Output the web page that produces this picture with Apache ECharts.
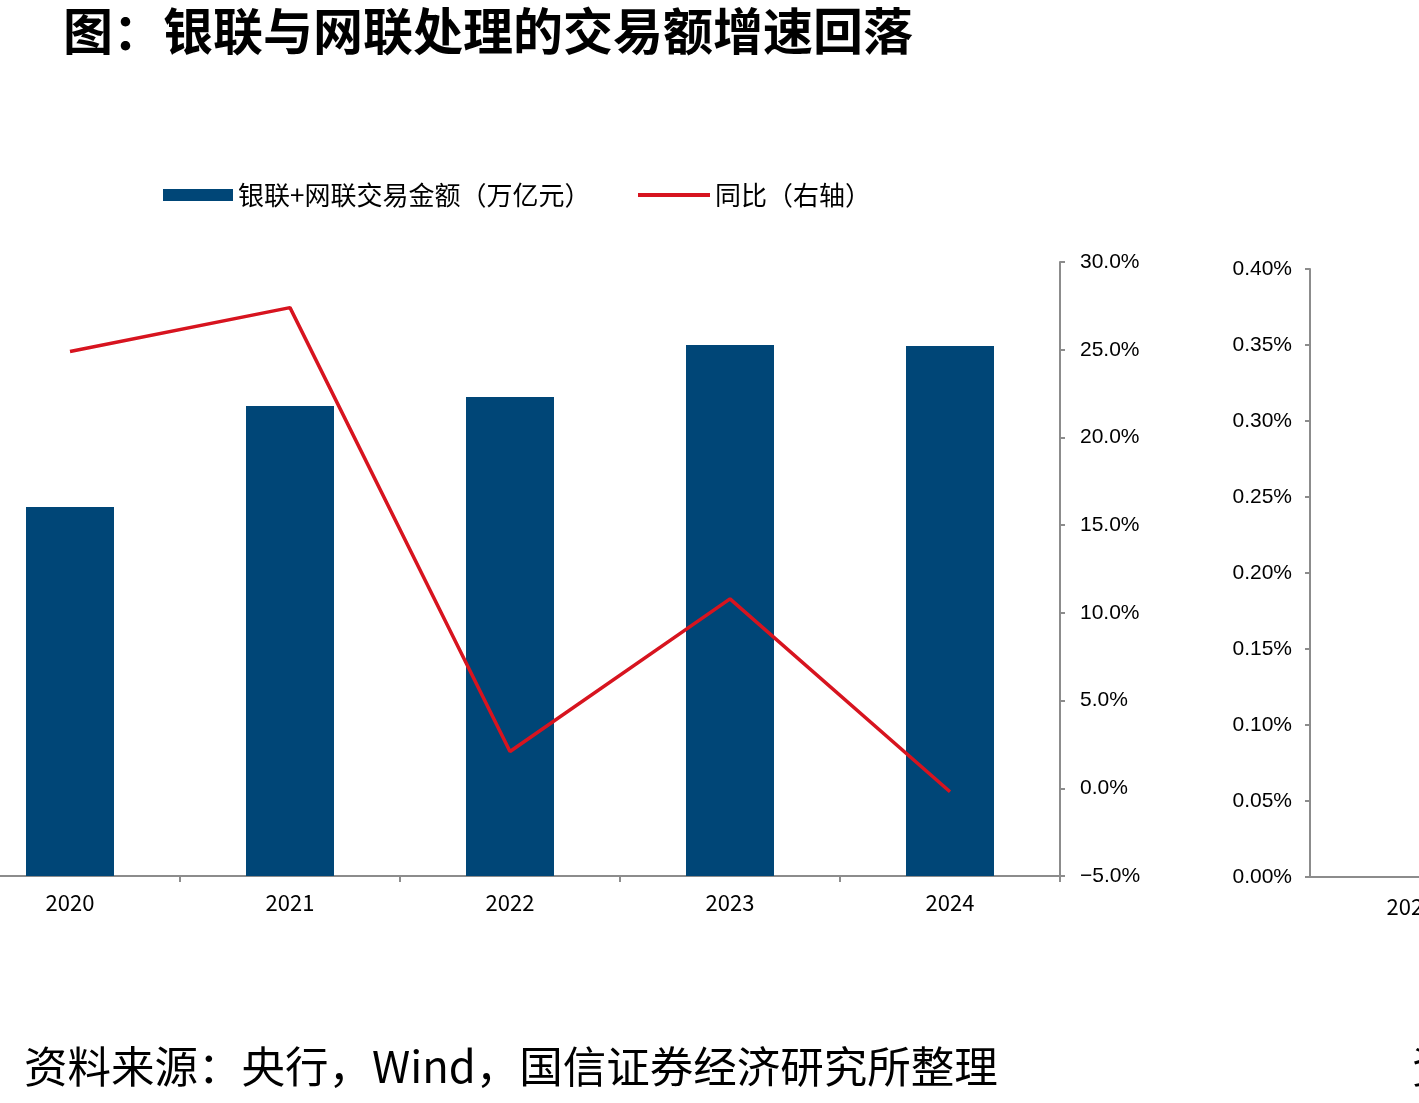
<!DOCTYPE html>
<html><head><meta charset="utf-8">
<script src="https://cdn.jsdelivr.net/npm/echarts@6/dist/echarts.min.js"></script>
<style>html,body{margin:0;padding:0;background:#fff;overflow:hidden;width:1419px;height:1103px;}
#c{position:absolute;left:-40px;top:0;width:2400px;height:1103px;}</style>
</head><body><div id="c"></div>
<script>
const titleText = '图：银联与网联处理的交易额增速回落';
const sourceText = '资料来源：央行，Wind，国信证券经济研究所整理';
const categories = ['2020', '2021', '2022', '2023', '2024'];
const barName = '银联+网联交易金额（万亿元）';
const lineName = '同比（右轴）';
const barValues = [210.4, 267.9, 273.1, 302.7, 302.1];
const yoyValues = [24.9, 27.4, 2.1, 10.8, -0.2];
const rightTicks = { min: -5, max: 30, interval: 5 };
const panel2Categories = ['2020', '2021', '2022', '2023', '2024'];
const panel2Ticks = { min: 0, max: 0.4, interval: 0.05 };

// chart container is shifted 40px left of the page
const OX = 40;
const FONT = '"Noto Sans CJK SC", "Noto Sans", sans-serif';
const NUMFONT = '"Liberation Sans", Arial, sans-serif';
const AXIS_GRAY = '#8c8c8c';
const chart = echarts.init(document.getElementById('c'));
chart.setOption({
  animation: false,
  backgroundColor: '#fff',
  textStyle: { fontFamily: FONT },
  title: [
    { text: titleText, left: 58 + OX, top: 1, textStyle: { fontSize: 50, fontWeight: 'bold', color: '#000', fontFamily: FONT } },
    { text: sourceText, left: 19 + OX, top: 1040, textStyle: { fontSize: 43.5, fontWeight: 'normal', color: '#000', fontFamily: FONT } },
    { text: sourceText, left: 1407 + OX, top: 1040, textStyle: { fontSize: 43.5, fontWeight: 'normal', color: '#000', fontFamily: FONT } }
  ],
  legend: [
    {
      left: 163 + OX, top: 182, padding: 0, itemGap: 10, itemWidth: 70, itemHeight: 12,
      textStyle: { fontSize: 26, color: '#000', fontFamily: FONT },
      data: [{ name: barName, icon: 'rect' }]
    },
    {
      left: 638 + OX, top: 182, padding: 0, itemWidth: 72, itemHeight: 4,
      textStyle: { fontSize: 26, color: '#000', fontFamily: FONT },
      data: [{ name: lineName, icon: 'rect' }]
    }
  ],
  grid: [
    { left: 0, right: 1300, top: 262, bottom: 227, containLabel: false },
    { left: 1350, right: 41, top: 269, bottom: 226, containLabel: false }
  ],
  xAxis: [
    {
      type: 'category', gridIndex: 0, data: categories,
      axisLine: { lineStyle: { color: AXIS_GRAY, width: 2 } },
      axisTick: { show: true, length: 6, lineStyle: { color: AXIS_GRAY, width: 2 } },
      axisLabel: { color: '#000', fontSize: 22, margin: 16, fontFamily: FONT }
    },
    {
      type: 'category', gridIndex: 1, data: panel2Categories,
      axisLine: { lineStyle: { color: AXIS_GRAY, width: 2 } },
      axisTick: { show: false },
      axisLabel: { color: '#000', fontSize: 22, margin: 19, fontFamily: FONT }
    }
  ],
  yAxis: [
    { type: 'value', gridIndex: 0, min: 0, max: 350, show: false, splitLine: { show: false } },
    {
      type: 'value', gridIndex: 0, position: 'right', min: rightTicks.min, max: rightTicks.max, interval: rightTicks.interval,
      axisLine: { show: true, lineStyle: { color: AXIS_GRAY, width: 2 } },
      axisTick: { show: true, length: 5, lineStyle: { color: AXIS_GRAY, width: 2 } },
      splitLine: { show: false },
      axisLabel: { color: '#000', fontSize: 21, margin: 20, fontFamily: NUMFONT,
        formatter: v => (v < 0 ? '\u2212' + Math.abs(v).toFixed(1) : v.toFixed(1)) + '%' }
    },
    {
      type: 'value', gridIndex: 1, position: 'left', min: panel2Ticks.min, max: panel2Ticks.max, interval: panel2Ticks.interval,
      axisLine: { show: true, lineStyle: { color: AXIS_GRAY, width: 2 } },
      axisTick: { show: true, length: 5, lineStyle: { color: AXIS_GRAY, width: 2 } },
      splitLine: { show: false },
      axisLabel: { color: '#000', fontSize: 21, margin: 18, fontFamily: NUMFONT,
        formatter: v => v.toFixed(2) + '%' }
    }
  ],
  series: [
    { name: barName, type: 'bar', xAxisIndex: 0, yAxisIndex: 0, data: barValues, barWidth: '40%',
      itemStyle: { color: '#004677' } },
    { name: lineName, type: 'line', xAxisIndex: 0, yAxisIndex: 1, data: yoyValues, symbol: 'none',
      lineStyle: { color: '#D7141F', width: 3.5 }, itemStyle: { color: '#D7141F' } }
  ]
});
</script></body></html>
